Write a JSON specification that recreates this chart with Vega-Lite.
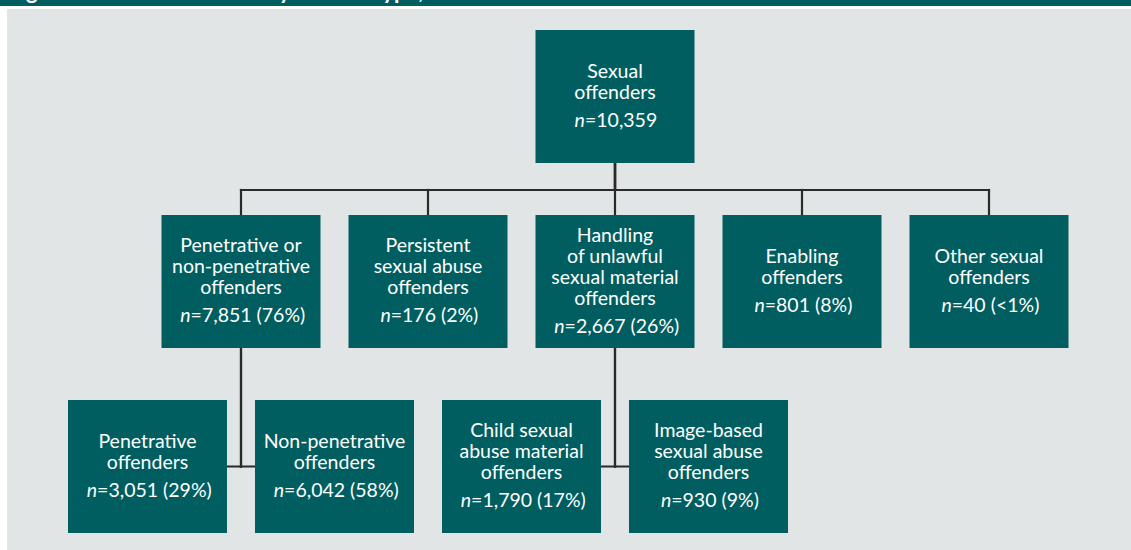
{
  "$schema": "https://vega.github.io/schema/vega-lite/v6.json",
  "autosize": {"type": "fit", "contains": "padding"},
  "width": 1131,
  "height": 550,
  "padding": 0,
  "background": "#ffffff",
  "config": {"view": {"stroke": null, "fill": "#E1E5E6"}},
  "datasets": {
    "nodes": [
      {"id": "all", "label": "Sexual\noffenders", "n": "10,359", "col": 5, "level": 0},
      {"id": "pnp", "label": "Penetrative or\nnon-penetrative\noffenders", "n": "7,851 (76%)", "col": 1, "level": 1},
      {"id": "psa", "label": "Persistent\nsexual abuse\noffenders", "n": "176 (2%)", "col": 3, "level": 1},
      {"id": "hus", "label": "Handling\nof unlawful\nsexual material\noffenders", "n": "2,667 (26%)", "col": 5, "level": 1},
      {"id": "ena", "label": "Enabling\noffenders", "n": "801 (8%)", "col": 7, "level": 1},
      {"id": "oth", "label": "Other sexual\noffenders", "n": "40 (<1%)", "col": 9, "level": 1},
      {"id": "pen", "label": "Penetrative\noffenders", "n": "3,051 (29%)", "col": 0, "level": 2},
      {"id": "npen", "label": "Non-penetrative\noffenders", "n": "6,042 (58%)", "col": 2, "level": 2},
      {"id": "csam", "label": "Child sexual\nabuse material\noffenders", "n": "1,790 (17%)", "col": 4, "level": 2},
      {"id": "ibsa", "label": "Image-based\nsexual abuse\noffenders", "n": "930 (9%)", "col": 6, "level": 2}
    ],
    "edges": [
      {"parent": "all", "child": "pnp"},
      {"parent": "all", "child": "psa"},
      {"parent": "all", "child": "hus"},
      {"parent": "all", "child": "ena"},
      {"parent": "all", "child": "oth"},
      {"parent": "pnp", "child": "pen"},
      {"parent": "pnp", "child": "npen"},
      {"parent": "hus", "child": "csam"},
      {"parent": "hus", "child": "ibsa"}
    ],
    "frame": [
      {"title": "Figure 1: Sexual offenders by offence type, 2022–23"}
    ]
  },
  "layer": [
    {
      "data": {"name": "frame"},
      "layer": [
        {
          "mark": {"type": "rect", "color": "#005E60"},
          "encoding": {
            "x": {"datum": -1.5775, "type": "quantitative", "scale": {"domain": [-1.5775, 10.5187], "nice": false, "zero": false}, "axis": null},
            "x2": {"datum": 10.5187},
            "y": {"datum": -0.5216, "type": "quantitative", "scale": {"domain": [-0.5216, 2.4514], "nice": false, "zero": false, "reverse": true}, "axis": null},
            "y2": {"datum": -0.4892}
          }
        },
        {
          "mark": {"type": "rect", "color": "#ffffff"},
          "encoding": {
            "x": {"datum": -1.5775, "type": "quantitative", "scale": {"domain": [-1.5775, 10.5187], "nice": false, "zero": false}, "axis": null},
            "x2": {"datum": 10.5187},
            "y": {"datum": -0.4892, "type": "quantitative", "scale": {"domain": [-0.5216, 2.4514], "nice": false, "zero": false, "reverse": true}, "axis": null},
            "y2": {"datum": -0.4730}
          }
        },
        {
          "mark": {"type": "rect", "color": "#ffffff"},
          "encoding": {
            "x": {"datum": -1.5775, "type": "quantitative", "scale": {"domain": [-1.5775, 10.5187], "nice": false, "zero": false}, "axis": null},
            "x2": {"datum": -1.5027},
            "y": {"datum": -0.4892, "type": "quantitative", "scale": {"domain": [-0.5216, 2.4514], "nice": false, "zero": false, "reverse": true}, "axis": null},
            "y2": {"datum": 2.4514}
          }
        },
        {
          "mark": {"type": "text", "clip": true, "align": "left", "baseline": "alphabetic", "font": "Lato", "fontWeight": "bold", "fontSize": 22, "color": "#ffffff"},
          "encoding": {
            "x": {"datum": -1.492, "type": "quantitative", "scale": {"domain": [-1.5775, 10.5187], "nice": false, "zero": false}, "axis": null},
            "y": {"datum": -0.528, "type": "quantitative", "scale": {"domain": [-0.5216, 2.4514], "nice": false, "zero": false, "reverse": true}, "axis": null},
            "text": {"field": "title"}
          }
        }
      ]
    },
    {
      "data": {"name": "edges"},
      "transform": [
        {"lookup": "parent", "from": {"data": {"name": "nodes"}, "key": "id", "fields": ["col", "level"]}, "as": ["pcol", "plevel"]},
        {"lookup": "child", "from": {"data": {"name": "nodes"}, "key": "id", "fields": ["col", "level"]}, "as": ["ccol", "clevel"]},
        {"calculate": "datum.clevel == 2 ? datum.clevel : datum.plevel + 0.5054", "as": "elbow"}
      ],
      "layer": [
        {
          "mark": {"type": "rule", "color": "#2A2A2A", "strokeWidth": 2.2, "strokeCap": "square"},
          "encoding": {
            "x": {"field": "pcol", "type": "quantitative", "scale": {"domain": [-1.5775, 10.5187], "nice": false, "zero": false}, "axis": null},
            "y": {"field": "plevel", "type": "quantitative", "scale": {"domain": [-0.5216, 2.4514], "nice": false, "zero": false, "reverse": true}, "axis": null},
            "y2": {"field": "elbow"}
          }
        },
        {
          "mark": {"type": "rule", "color": "#2A2A2A", "strokeWidth": 2.2, "strokeCap": "square"},
          "encoding": {
            "x": {"field": "pcol", "type": "quantitative", "scale": {"domain": [-1.5775, 10.5187], "nice": false, "zero": false}, "axis": null},
            "x2": {"field": "ccol"},
            "y": {"field": "elbow", "type": "quantitative", "scale": {"domain": [-0.5216, 2.4514], "nice": false, "zero": false, "reverse": true}, "axis": null}
          }
        },
        {
          "mark": {"type": "rule", "color": "#2A2A2A", "strokeWidth": 2.2, "strokeCap": "square"},
          "encoding": {
            "x": {"field": "ccol", "type": "quantitative", "scale": {"domain": [-1.5775, 10.5187], "nice": false, "zero": false}, "axis": null},
            "y": {"field": "elbow", "type": "quantitative", "scale": {"domain": [-0.5216, 2.4514], "nice": false, "zero": false, "reverse": true}, "axis": null},
            "y2": {"field": "clevel"}
          }
        }
      ]
    },
    {
      "data": {"name": "nodes"},
      "transform": [
        {"calculate": "datum.col - 0.8503", "as": "x1"},
        {"calculate": "datum.col + 0.8503", "as": "x2"},
        {"calculate": "datum.level - 0.3595", "as": "y1"},
        {"calculate": "datum.level + 0.3595", "as": "y2"},
        {"calculate": "length(split(datum.label, '\\n'))", "as": "nl"},
        {"calculate": "datum.level - (14 + (datum.nl - 1) * 10.5) / 185", "as": "ylab"},
        {"calculate": "datum.level + ((datum.nl - 1) * 10.5 + 14) / 185", "as": "yn"},
        {"calculate": "'=' + datum.n", "as": "rest"},
        {"calculate": "11.0 * length(replace(datum.rest, regexp('[^0-9=<]', 'g'), '')) + 4.3 * length(replace(datum.rest, regexp('[^,]', 'g'), '')) + 3.7 * length(replace(datum.rest, regexp('[^ ]', 'g'), '')) + 5.6 * length(replace(datum.rest, regexp('[^()]', 'g'), '')) + 14.8 * length(replace(datum.rest, regexp('[^%]', 'g'), ''))", "as": "wrest"},
        {"calculate": "datum.col + (10.2 - datum.wrest) / 2 / 93.5", "as": "xs"}
      ],
      "layer": [
        {
          "mark": {"type": "rect", "color": "#005E60"},
          "encoding": {
            "x": {"field": "x1", "type": "quantitative", "scale": {"domain": [-1.5775, 10.5187], "nice": false, "zero": false}, "axis": null},
            "x2": {"field": "x2"},
            "y": {"field": "y1", "type": "quantitative", "scale": {"domain": [-0.5216, 2.4514], "nice": false, "zero": false, "reverse": true}, "axis": null},
            "y2": {"field": "y2"}
          }
        },
        {
          "mark": {"type": "text", "align": "center", "baseline": "middle", "lineBreak": "\n", "lineHeight": 21, "font": "Lato", "fontSize": 19.5, "color": "#ffffff"},
          "encoding": {
            "x": {"field": "col", "type": "quantitative", "scale": {"domain": [-1.5775, 10.5187], "nice": false, "zero": false}, "axis": null},
            "y": {"field": "ylab", "type": "quantitative", "scale": {"domain": [-0.5216, 2.4514], "nice": false, "zero": false, "reverse": true}, "axis": null},
            "text": {"field": "label"}
          }
        },
        {
          "mark": {"type": "text", "align": "right", "baseline": "middle", "font": "Lato", "fontStyle": "italic", "fontSize": 19.5, "color": "#ffffff"},
          "encoding": {
            "x": {"field": "xs", "type": "quantitative", "scale": {"domain": [-1.5775, 10.5187], "nice": false, "zero": false}, "axis": null},
            "y": {"field": "yn", "type": "quantitative", "scale": {"domain": [-0.5216, 2.4514], "nice": false, "zero": false, "reverse": true}, "axis": null},
            "text": {"value": "n"}
          }
        },
        {
          "mark": {"type": "text", "align": "left", "baseline": "middle", "font": "Lato", "fontSize": 19.5, "color": "#ffffff"},
          "encoding": {
            "x": {"field": "xs", "type": "quantitative", "scale": {"domain": [-1.5775, 10.5187], "nice": false, "zero": false}, "axis": null},
            "y": {"field": "yn", "type": "quantitative", "scale": {"domain": [-0.5216, 2.4514], "nice": false, "zero": false, "reverse": true}, "axis": null},
            "text": {"field": "rest"}
          }
        }
      ]
    }
  ]
}
